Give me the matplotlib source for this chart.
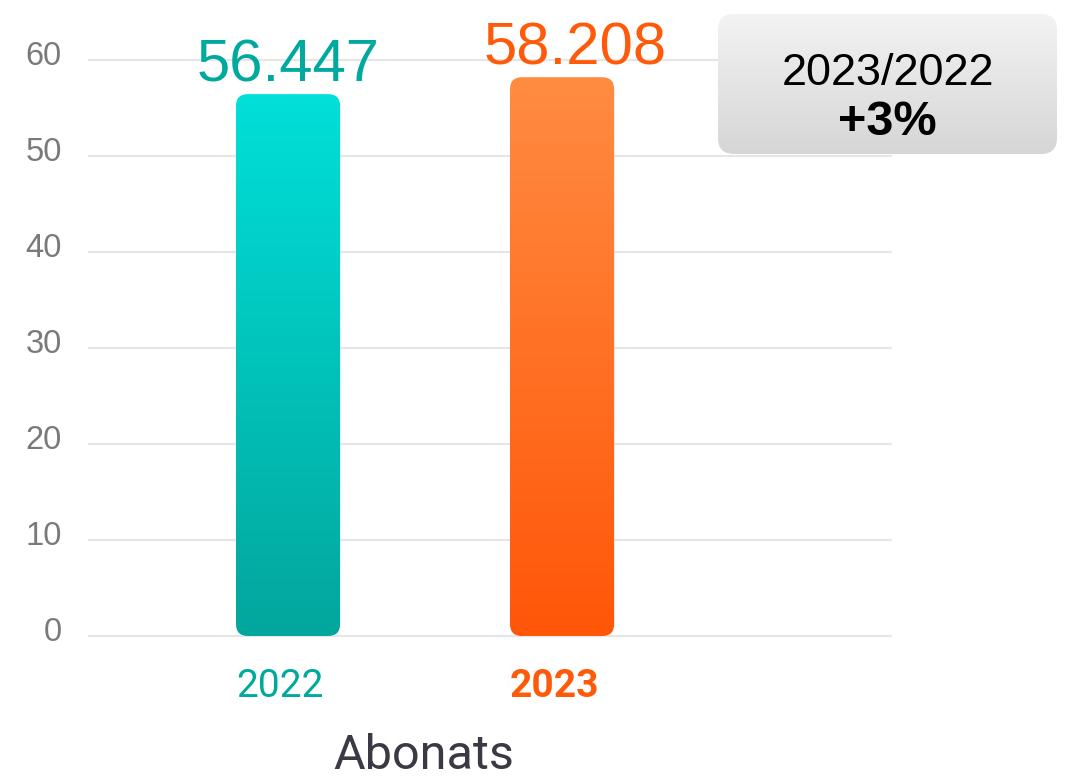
import matplotlib
matplotlib.use("Agg")
import matplotlib.pyplot as plt
import matplotlib.transforms as mtransforms
import numpy as np
from matplotlib.colors import LinearSegmentedColormap
from matplotlib.patches import FancyBboxPatch

# Subscribers per year (thousands)
years = ["2022", "2023"]
subscribers = [56.447, 58.208]
value_labels = ["56.447", "58.208"]
yticks = [0, 10, 20, 30, 40, 50, 60]
change_label = "2023/2022"
change_value = "+3%"
axis_title = "Abonats"

# bottom -> top gradient colours and label colours per year
bar_grads = [("#03A69C", "#00E0D9"), ("#FF5608", "#FF8C42")]
label_colors = ["#00A99D", "#FF5A0A"]

W, H = 1066, 779
fig = plt.figure(figsize=(W / 100, H / 100), dpi=100)
fig.patch.set_facecolor("white")

ax = fig.add_axes([88 / W, (H - 645.6) / H, 804 / W, 604.8 / H])
ax.set_xlim(-0.73, 2.204)
ax.set_ylim(-1, 62)
for sp in ax.spines.values():
    sp.set_visible(False)

ax.set_yticks(yticks)
ax.set_yticklabels([str(t) for t in yticks], fontsize=23.5, color="#7a7a7a",
                   family="Liberation Sans")
ax.tick_params(axis="y", length=0, pad=19)
ax.grid(axis="y", color="#e6e6e6", lw=1.6)
ax.set_axisbelow(True)
# y labels sit a little above their grid lines
lift = mtransforms.ScaledTranslation(0, 7 / 100, fig.dpi_scale_trans)
for tl in ax.get_yticklabels():
    tl.set_transform(tl.get_transform() + lift)

x = np.arange(len(years))
ax.set_xticks(x)
ax.set_xticklabels(years, fontsize=28, family="Roboto")
ax.tick_params(axis="x", length=0, pad=16)
shift = mtransforms.ScaledTranslation(-8 / 100, 0, fig.dpi_scale_trans)
for tl, c, w in zip(ax.get_xticklabels(), label_colors, ["normal", "bold"]):
    tl.set_color(c)
    tl.set_fontweight(w)
    tl.set_transform(tl.get_transform() + shift)

# rounded gradient bars
bar_w = 0.38
px_x = 804 / (2.204 + 0.73)
px_y = 604.8 / 63
radius_px = 12
aspect = (radius_px / px_y) / (radius_px / px_x)
grad = np.linspace(0, 1, 256).reshape(-1, 1)
for xi, val, (c0, c1) in zip(x, subscribers, bar_grads):
    patch = FancyBboxPatch((xi - bar_w / 2, 0), bar_w, val,
                           boxstyle=f"round,pad=0,rounding_size={radius_px / px_x}",
                           mutation_aspect=aspect, lw=0, fc="none")
    ax.add_patch(patch)
    cmap = LinearSegmentedColormap.from_list("g", [c0, c1])
    im = ax.imshow(grad, cmap=cmap, origin="lower", aspect="auto",
                   extent=(xi - bar_w / 2, xi + bar_w / 2, 0, val), zorder=2)
    im.set_clip_path(patch)

offsets = [0, 13]
for xi, val, lab, c, dx in zip(x, subscribers, value_labels, label_colors, offsets):
    ax.annotate(lab, (xi, val), xytext=(dx * 0.72, 9), textcoords="offset points",
                ha="center", va="baseline", fontsize=43, color=c,
                family="Liberation Sans", annotation_clip=False)

ax.set_xlim(-0.73, 2.204)
ax.set_ylim(-1, 62)

fig.text(424 / W, 10 / H, axis_title, ha="center", va="baseline", fontsize=35,
         color="#3a3a45", family="Roboto")

# year-over-year change box
bx = fig.add_axes([718 / W, (H - 154) / H, 339 / W, 140 / H])
bx.set_xlim(0, 1)
bx.set_ylim(0, 1)
bx.axis("off")
box = FancyBboxPatch((0, 0), 1, 1, boxstyle=f"round,pad=0,rounding_size={16 / 339}",
                     mutation_aspect=339 / 140, lw=0, fc="none", transform=bx.transAxes)
bx.add_patch(box)
box_cmap = LinearSegmentedColormap.from_list("b", ["#d6d6d6", "#f3f3f3"])
bim = bx.imshow(grad, cmap=box_cmap, origin="lower", aspect="auto",
                extent=(0, 1, 0, 1))
bim.set_clip_path(box)
bx.text(0.5, (154 - 85) / 140, change_label, ha="center", va="baseline",
        fontsize=32.5, color="black", family="Liberation Sans")
bx.text(0.5, (154 - 135) / 140, change_value, ha="center", va="baseline",
        fontsize=35, fontweight="bold", color="black", family="Liberation Sans")

fig.savefig("out.png", dpi=100)
